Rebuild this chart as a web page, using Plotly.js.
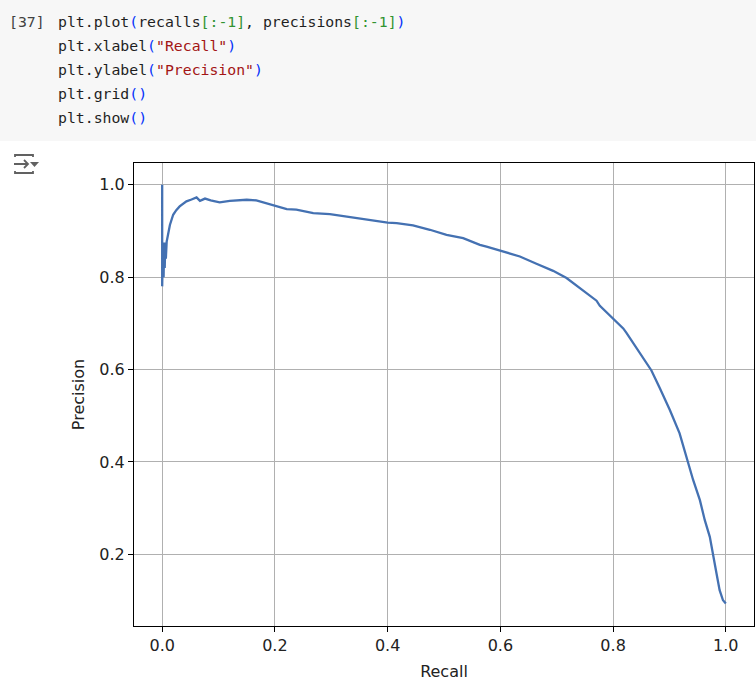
<!DOCTYPE html>
<html>
<head>
<meta charset="utf-8">
<script src="https://cdn.plot.ly/plotly-3.0.1.min.js"></script>
<style>
  html, body { margin:0; padding:0; background:#ffffff; width:756px; height:691px; overflow:hidden; }
  #cell { position:absolute; left:0; top:0; width:756px; height:141px; background:#f7f7f7; }
  .code { position:absolute; left:58px; top:10px; margin:0; font-family:"DejaVu Sans Mono", "Liberation Mono", monospace; font-size:14.8px; line-height:24px; color:#1f1f1f; white-space:pre; }
  .num { position:absolute; left:9px; top:10px; margin:0; font-family:"DejaVu Sans Mono", "Liberation Mono", monospace; font-size:14.8px; line-height:24px; color:#424242; white-space:pre; }
  .p { color:#0431fa; }
  .b { color:#319331; }
  .s { color:#a31515; }
  #icon { position:absolute; left:13px; top:152px; }
  #chart { position:absolute; left:0; top:145px; width:756px; height:546px; }
</style>
</head>
<body>
<div id="cell">
  <pre class="num">[37]</pre>
  <pre class="code">plt.plot<span class="p">(</span>recalls<span class="b">[:-1]</span>, precisions<span class="b">[:-1]</span><span class="p">)</span>
plt.xlabel<span class="p">(</span><span class="s">"Recall"</span><span class="p">)</span>
plt.ylabel<span class="p">(</span><span class="s">"Precision"</span><span class="p">)</span>
plt.grid<span class="p">()</span>
plt.show<span class="p">()</span></pre>
</div>
<svg id="icon" width="28" height="24" viewBox="0 0 28 24">
  <path d="M2 5 V3 H20 V5" fill="none" stroke="#616161" stroke-width="1.8"/>
  <path d="M2 19 V21 H20 V19" fill="none" stroke="#616161" stroke-width="1.8"/>
  <path d="M1 12 H15 M11 8 L15 12 L11 16" fill="none" stroke="#616161" stroke-width="1.8"/>
  <path d="M17 10 H26 L21.5 15 Z" fill="#616161"/>
</svg>
<div id="chart"></div>
<script>
const recalls = [0, 0, 0.0015, 0.0025, 0.0035, 0.0045, 0.0055, 0.0065, 0.008, 0.0105, 0.0137, 0.0195, 0.025, 0.031, 0.037, 0.043, 0.052, 0.061, 0.067, 0.076, 0.086, 0.0965, 0.102, 0.12, 0.135, 0.15, 0.167, 0.185, 0.2, 0.209, 0.221, 0.238, 0.253, 0.268, 0.2975, 0.327, 0.3566, 0.386, 0.4, 0.416, 0.445, 0.475, 0.5045, 0.534, 0.5636, 0.5755, 0.6, 0.6346, 0.664, 0.6936, 0.7174, 0.741, 0.7706, 0.7765, 0.8, 0.818, 0.824, 0.8416, 0.8594, 0.868, 0.883, 0.9007, 0.918, 0.9214, 0.9314, 0.933, 0.942, 0.954, 0.9627, 0.9716, 0.9775, 0.9835, 0.989, 0.995, 1.0];
const precisions = [1.0, 0.78, 0.875, 0.80, 0.87, 0.82, 0.875, 0.84, 0.877, 0.895, 0.913, 0.935, 0.945, 0.953, 0.958, 0.964, 0.968, 0.9725, 0.965, 0.970, 0.966, 0.964, 0.962, 0.965, 0.966, 0.9675, 0.966, 0.960, 0.9545, 0.951, 0.947, 0.946, 0.942, 0.9386, 0.9364, 0.9314, 0.9256, 0.9205, 0.918, 0.917, 0.912, 0.9025, 0.8917, 0.8844, 0.870, 0.866, 0.8577, 0.8447, 0.829, 0.8136, 0.798, 0.776, 0.749, 0.738, 0.709, 0.689, 0.679, 0.646, 0.6136, 0.598, 0.5595, 0.5125, 0.462, 0.4475, 0.408, 0.4, 0.361, 0.3174, 0.274, 0.238, 0.202, 0.1586, 0.1224, 0.1007, 0.0936];
const xTicks = [0, 0.2, 0.4, 0.6, 0.8, 1.0];
const xTickText = ["0.0", "0.2", "0.4", "0.6", "0.8", "1.0"];
const yTicks = [0.2, 0.4, 0.6, 0.8, 1.0];
const yTickText = ["0.2", "0.4", "0.6", "0.8", "1.0"];

const fontFam = '"DejaVu Sans", sans-serif';
const axisCommon = {
  showline: true, mirror: true, linecolor: '#000000', linewidth: 1,
  ticks: 'outside', ticklen: 5, tickwidth: 1, tickcolor: '#000000',
  showgrid: true, gridcolor: '#b0b0b0', gridwidth: 1,
  zeroline: false,
  tickfont: { family: fontFam, size: 16, color: '#222222' }
};

Plotly.newPlot('chart', [{
  x: recalls, y: precisions, type: 'scatter', mode: 'lines',
  line: { color: '#4471b2', width: 2.3 },
  hoverinfo: 'skip'
}], {
  width: 756, height: 546,
  margin: { l: 134, r: 2, t: 18, b: 65 },
  paper_bgcolor: 'rgba(0,0,0,0)', plot_bgcolor: '#ffffff',
  showlegend: false,
  xaxis: Object.assign({}, axisCommon, {
    range: [-0.05, 1.05], tickvals: xTicks, ticktext: xTickText,
    title: { text: 'Recall', font: { family: fontFam, size: 16, color: '#222222' }, standoff: 11 }
  }),
  yaxis: Object.assign({}, axisCommon, {
    range: [0.045, 1.047], tickvals: yTicks, ticktext: yTickText,
    title: { text: 'Precision', font: { family: fontFam, size: 16, color: '#222222' }, standoff: 10 }
  })
}, { displayModeBar: false, staticPlot: true });
</script>
</body>
</html>
